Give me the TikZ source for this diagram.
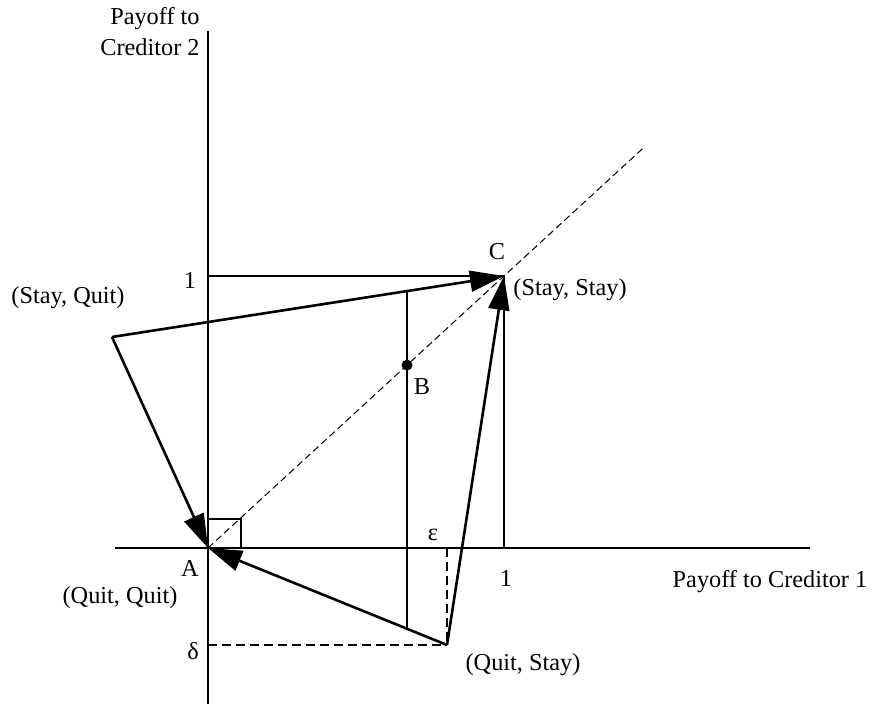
\documentclass[tikz,border=0pt]{standalone}
\usepackage{fontspec}
\setmainfont{Liberation Serif}
\usetikzlibrary{arrows.meta,calc}
\begin{document}
\begin{tikzpicture}[x=1pt,y=1pt,
  thinline/.style={line width=1.3pt},
  payarrow/.style={line width=2.6pt,-{Triangle[length=34pt,width=21pt]}},
  diag/.style={line width=1pt,dash pattern=on 7pt off 4pt},
  guide/.style={line width=1.5pt,dash pattern=on 9pt off 5pt},
  lbl/.style={inner sep=0pt,font=\fontsize{24.3}{31}\selectfont}]
\useasboundingbox (0,0) rectangle (874,704);
% key points
\coordinate (A) at (208,156);
\coordinate (C) at (504,428);
\coordinate (SQ) at (112,367);
\coordinate (QS) at (447,59);
\coordinate (Y1) at (208,428);
\coordinate (X1) at (504,156);
\coordinate (Ytop) at (208,673);
\coordinate (Ybot) at (208,0);
\coordinate (Xl) at (115,156);
\coordinate (Xr) at (810,156);
\coordinate (Dend) at ($(A)!1.47!(C)$);
\coordinate (V1) at (407,0);
\coordinate (V2) at (407,700);
\coordinate (Vt) at (intersection of SQ--C and V1--V2);
\coordinate (Vb) at (intersection of QS--A and V1--V2);
\coordinate (B) at (intersection of A--C and V1--V2);
\coordinate (Dl) at (208,59);
\coordinate (Et) at (447,156);
% axes
\draw[thinline] (Ybot) -- (Ytop);
\draw[thinline] (Xl) -- (Xr);
% guides
\draw[thinline] (Y1) -- (C) -- (X1);
\draw[thinline] (Vt) -- (Vb);
\draw[thinline] (A) rectangle (241,185);
\draw[diag] (A) -- (Dend);
\draw[guide] (Dl) -- (QS);
\draw[guide] (Et) -- (QS);
% arrows
\draw[payarrow] (SQ) -- (C);
\draw[payarrow] (SQ) -- (A);
\draw[payarrow] (QS) -- (A);
\draw[payarrow] (QS) -- (C);
\fill (B) circle (5.5pt);
% labels
\node[lbl,align=right] (ylab) at (150,672) {Payoff to\\Creditor 2};
\node[lbl] (xlab) at (770,122) {Payoff to Creditor 1};
\node[lbl] (one y) at (190,424) {1};
\node[lbl] (one x) at (506,126) {1};
\node[lbl] (sq) at (68,406) {(Stay, Quit)};
\node[lbl] (cl) at (497,452) {C};
\node[lbl] (ss) at (570,414) {(Stay, Stay)};
\node[lbl] (bl) at (422,317) {B};
\node[lbl] (eps) at (433,169) {ε};
\node[lbl] (al) at (190,136) {A};
\node[lbl] (qq) at (120,106) {(Quit, Quit)};
\node[lbl] (del) at (193,53) {δ};
\node[lbl] (qs) at (523,39) {(Quit, Stay)};
\end{tikzpicture}
\end{document}
